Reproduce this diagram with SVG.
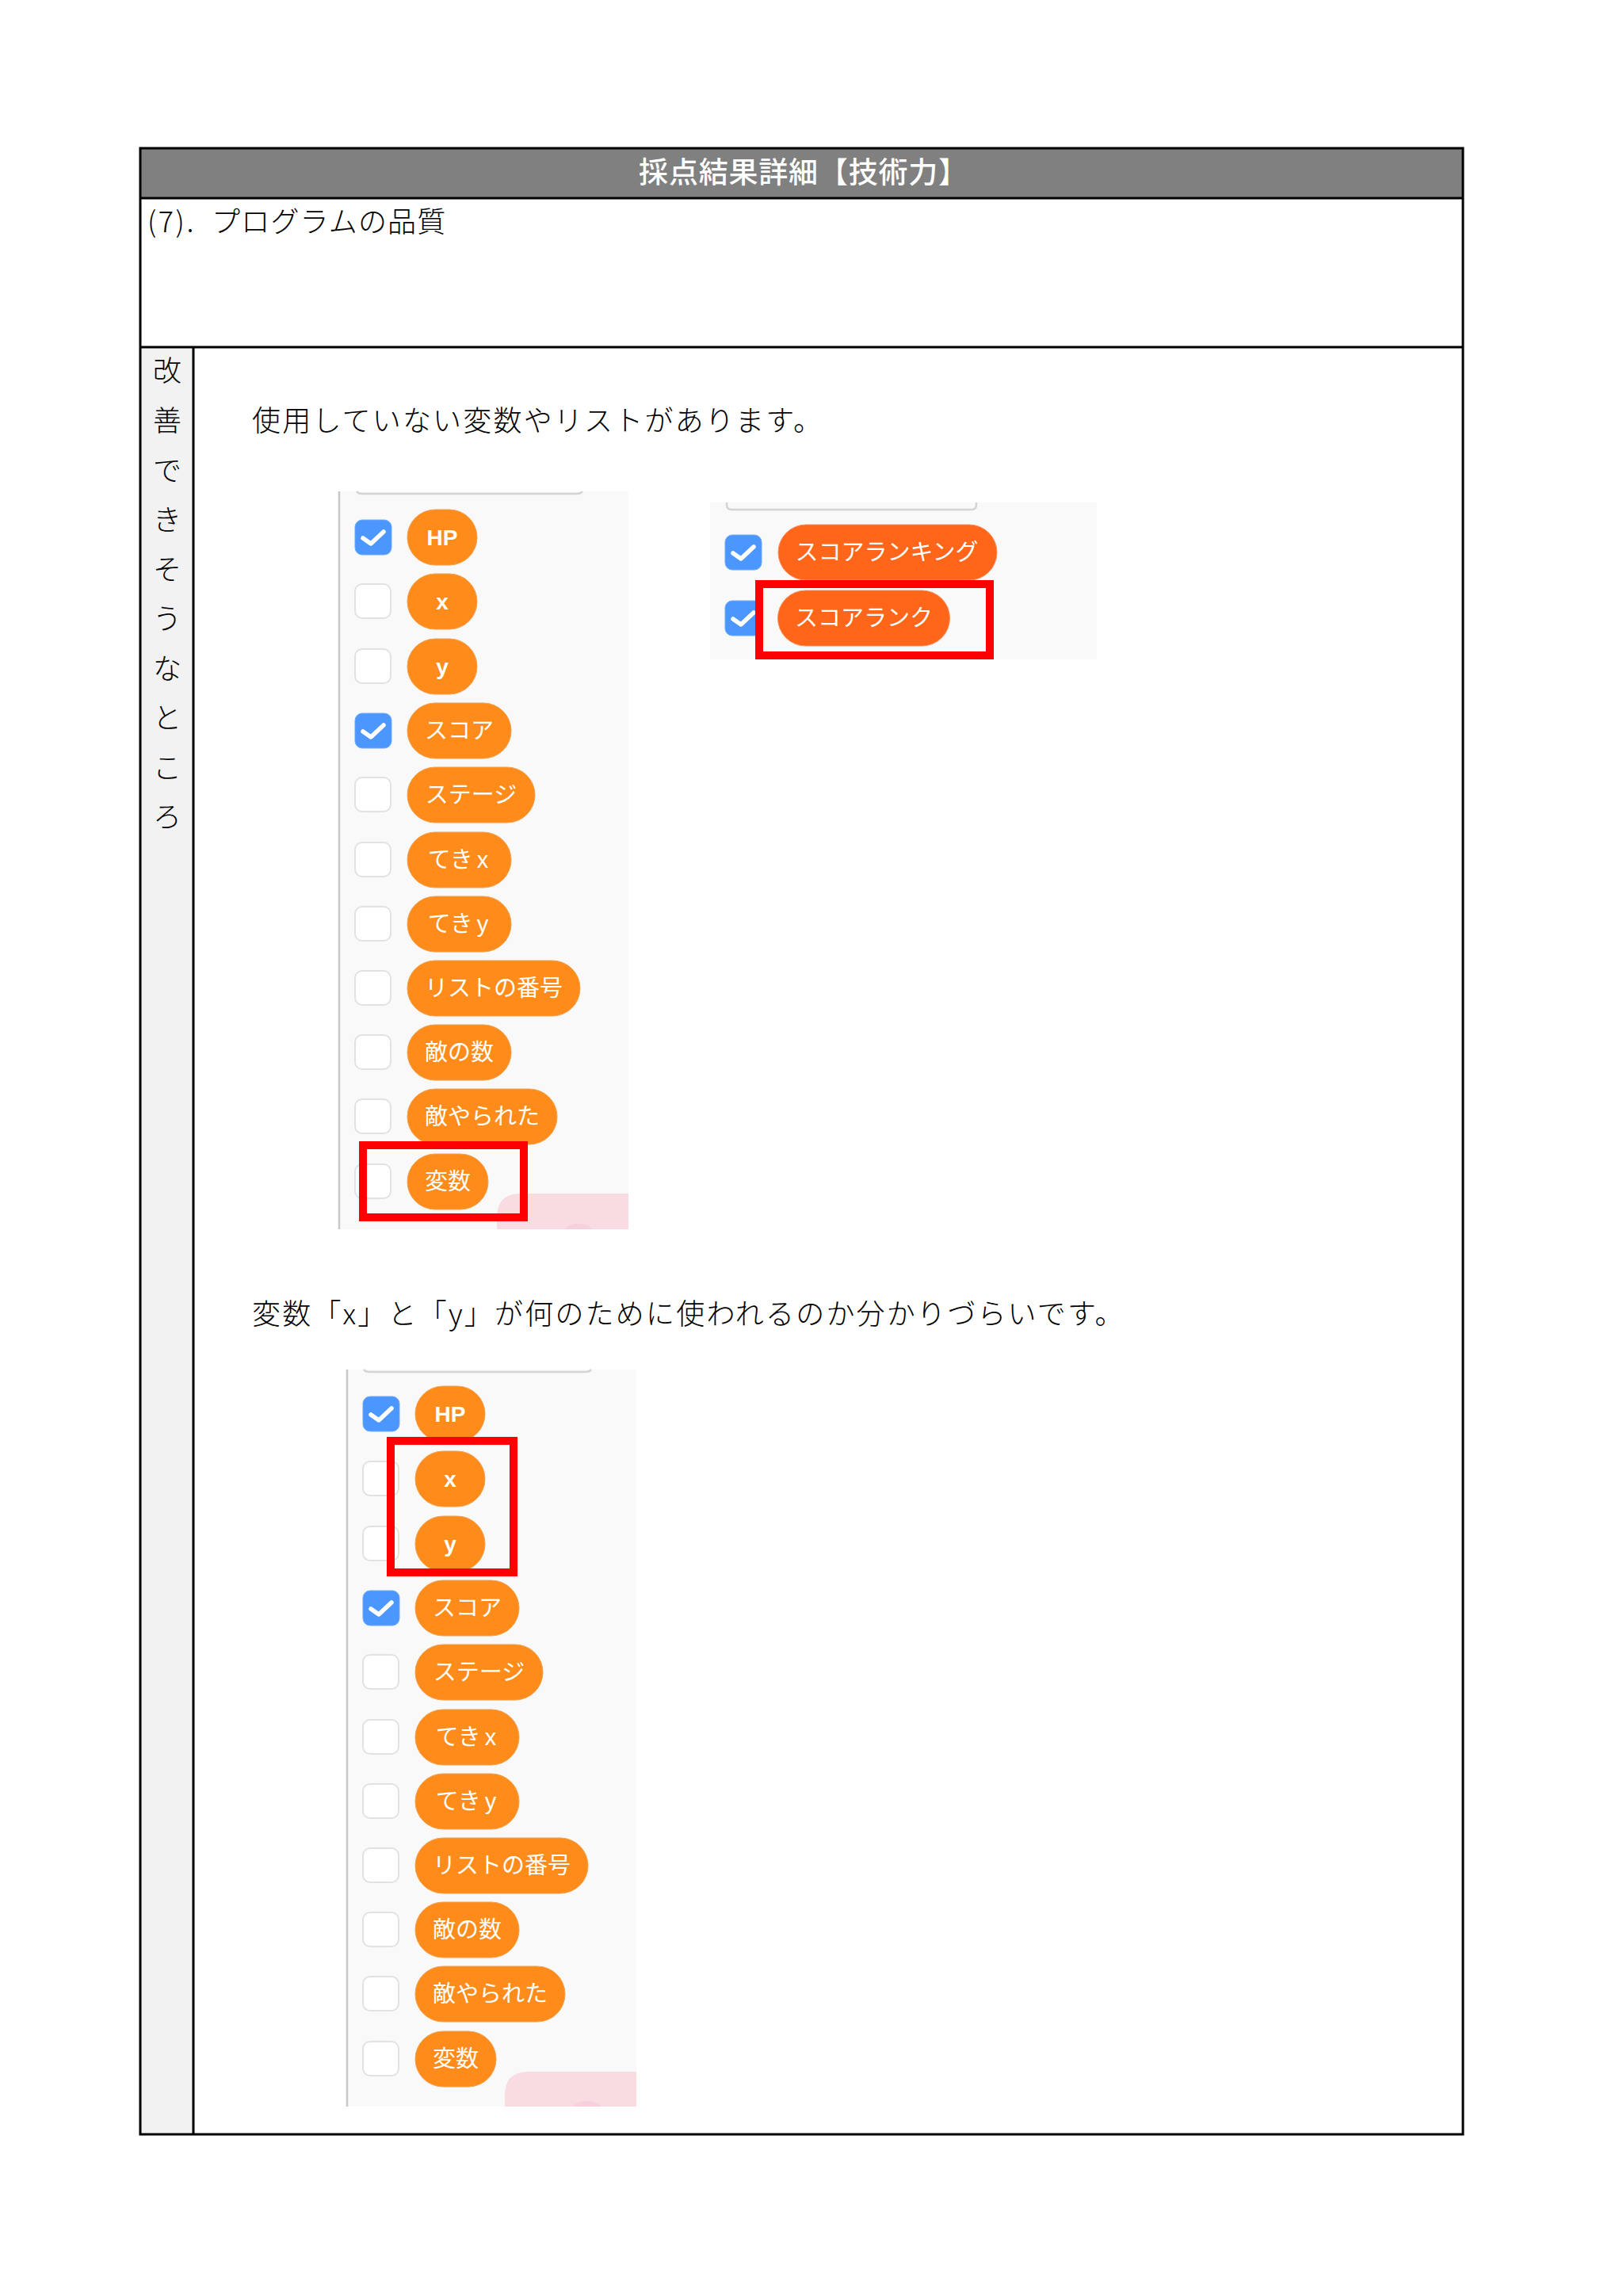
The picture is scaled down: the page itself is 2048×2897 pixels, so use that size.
<svg xmlns="http://www.w3.org/2000/svg" width="2048" height="2897" viewBox="0 0 2048 2897">
<style>
.bg{fill:#fff}
.ln{fill:none;stroke:#000;stroke-width:3}
.head{font:500 37px "Noto Sans CJK JP",sans-serif;fill:#fff;text-anchor:middle;letter-spacing:.8px}
.body{font:300 36px "Noto Sans CJK JP",sans-serif;fill:#000;letter-spacing:2.2px}
.side{font:300 36px "Noto Sans CJK JP",sans-serif;fill:#000;text-anchor:middle}
.panel{fill:#f9f9f9}
.edge{stroke:#c8c8c8;stroke-width:2.5;fill:none}
.top{stroke:#d4d4d4;stroke-width:2.5;fill:none}
.pink{fill:#f9dbe2}
.blob{fill:#f6d0da}
.on{fill:#4c97ff;stroke:#6aa9ff;stroke-width:1}
.off{fill:#fff;stroke:#e2e2e2;stroke-width:2}
.chk{fill:none;stroke:#fff;stroke-width:5.5;stroke-linecap:round;stroke-linejoin:round}
.p1{fill:#ff8c1a;stroke:#f0a050;stroke-width:1}
.p2{fill:#ff661a;stroke:#f59060;stroke-width:1}
.t{font:400 29px "Liberation Sans","Noto Sans CJK JP",sans-serif;fill:#fff;text-anchor:middle}
.b{font:700 28px "Liberation Sans",sans-serif;fill:#fff;text-anchor:middle}
.red{fill:none;stroke:#f00;stroke-width:10}
</style>
<defs>
<g id="cOn"><rect class="on" x="0" y="-22" width="46" height="44" rx="9"/><path class="chk" d="M10 1L20 8L36 -7"/></g>
<g id="cOff"><rect class="off" x="0" y="-22" width="45" height="43" rx="9"/></g>
</defs>
<rect class="bg" width="2048" height="2897"/>
<g id="table">
<rect x="177" y="187" width="1669" height="63" fill="#808080"/>
<rect x="177" y="438" width="67" height="2255" fill="#f2f2f2"/>
<rect class="ln" x="177" y="187" width="1669" height="2506"/>
<path class="ln" d="M177 250H1846M177 438H1846M244 438V2693"/>
<text id="title" class="head" x="1014" y="231">採点結果詳細【技術力】</text>
<text id="item" class="body" x="186" y="293" style="letter-spacing:2.500px">(7).</text>
<text id="item-name" class="body" x="267" y="293" style="letter-spacing:1.200px">プログラムの品質</text>
<g id="side">
<text class="side" x="211" y="481">改</text>
<text class="side" x="211" y="544">善</text>
<text class="side" x="211" y="607">で</text>
<text class="side" x="211" y="669">き</text>
<text class="side" x="211" y="732">そ</text>
<text class="side" x="211" y="794">う</text>
<text class="side" x="211" y="857">な</text>
<text class="side" x="211" y="919">と</text>
<text class="side" x="211" y="982">こ</text>
<text class="side" x="211" y="1044">ろ</text>
</g>
<text id="note1" class="body" x="318" y="544">使用していない変数やリストがあります。</text>
<text id="note2" class="body" x="318" y="1671">変数「x」と「y」が何のために使われるのか分かりづらいです。</text>
</g>

<g id="panel1">
<rect class="panel" x="428" y="620" width="365" height="931"/>
<path class="edge" d="M428 620V1551"/>
<path class="top" d="M450 620q2 3 7 3H728q5 0 7-3"/>
<path class="pink" d="M627 1551V1536q0-30 30-30H793V1551Z"/>
<path class="blob" d="M712 1551q6-7 18-7t18 7Z"/>
<g id="p1-hp" transform="translate(448,678)"><use href="#cOn"/><rect class="p1" x="66" y="-35" width="88" height="70" rx="35"/><text class="b" x="110" y="10">HP</text></g>
<g id="p1-x" transform="translate(448,759)"><use href="#cOff"/><rect class="p1" x="66" y="-35" width="88" height="70" rx="35"/><text class="b" x="110" y="10">x</text></g>
<g id="p1-y" transform="translate(448,841)"><use href="#cOff"/><rect class="p1" x="66" y="-35" width="88" height="70" rx="35"/><text class="b" x="110" y="10">y</text></g>
<g id="p1-score" transform="translate(448,922)"><use href="#cOn"/><rect class="p1" x="66" y="-35" width="131" height="70" rx="35"/><text class="t" x="131.500" y="10">スコア</text></g>
<g id="p1-stage" transform="translate(448,1003)"><use href="#cOff"/><rect class="p1" x="66" y="-35" width="161" height="70" rx="35"/><text class="t" x="146.500" y="10">ステージ</text></g>
<g id="p1-tekix" transform="translate(448,1085)"><use href="#cOff"/><rect class="p1" x="66" y="-35" width="131" height="70" rx="35"/><text class="t" x="130" y="10">てき<tspan dx="5">x</tspan></text></g>
<g id="p1-tekiy" transform="translate(448,1166)"><use href="#cOff"/><rect class="p1" x="66" y="-35" width="131" height="70" rx="35"/><text class="t" x="130" y="10">てき<tspan dx="5">y</tspan></text></g>
<g id="p1-list" transform="translate(448,1247)"><use href="#cOff"/><rect class="p1" x="66" y="-35" width="218" height="70" rx="35"/><text class="t" x="175" y="10">リストの番号</text></g>
<g id="p1-enemy" transform="translate(448,1328)"><use href="#cOff"/><rect class="p1" x="66" y="-35" width="131" height="70" rx="35"/><text class="t" x="131.500" y="10">敵の数</text></g>
<g id="p1-beaten" transform="translate(448,1409)"><use href="#cOff"/><rect class="p1" x="66" y="-35" width="189" height="70" rx="35"/><text class="t" x="160.500" y="10">敵やられた</text></g>
<g id="p1-var" transform="translate(448,1491)"><use href="#cOff"/><rect class="p1" x="66" y="-35" width="102" height="70" rx="35"/><text class="t" x="117" y="10">変数</text></g>
<rect id="p1-mark" class="red" x="458" y="1445" width="203" height="91"/>
</g>

<g id="panel2">
<rect class="panel" x="896" y="634" width="488" height="198"/>
<path class="top" d="M917 634v3q0 6 6 6H1226q6 0 6-6v-3"/>
<g id="p2-ranking" transform="translate(915,697)"><use href="#cOn"/><rect class="p2" x="67" y="-35" width="276" height="70" rx="35"/><text class="t" x="204" y="10">スコアランキング</text></g>
<g id="p2-rank" transform="translate(915,780)"><use href="#cOn"/><rect class="p2" x="66.500" y="-35" width="217" height="70" rx="35"/><text class="t" x="175" y="10">スコアランク</text></g>
<rect id="p2-mark" class="red" x="958" y="737" width="291" height="90"/>
</g>

<g id="panel3">
<rect class="panel" x="438" y="1728" width="365" height="930"/>
<path class="edge" d="M438 1728V2658"/>
<path class="top" d="M459 1728q2 3 7 3H739q5 0 7-3"/>
<path class="pink" d="M637 2658V2644q0-30 30-30H803V2658Z"/>
<path class="blob" d="M723 2658q6-7 18-7t18 7Z"/>
<g id="p3-hp" transform="translate(458,1784)"><use href="#cOn"/><rect class="p1" x="66" y="-35" width="88" height="70" rx="35"/><text class="b" x="110" y="10">HP</text></g>
<g id="p3-x" transform="translate(458,1866)"><use href="#cOff"/><rect class="p1" x="66" y="-35" width="88" height="70" rx="35"/><text class="b" x="110" y="10">x</text></g>
<g id="p3-y" transform="translate(458,1948)"><use href="#cOff"/><rect class="p1" x="66" y="-35" width="88" height="70" rx="35"/><text class="b" x="110" y="10">y</text></g>
<g id="p3-score" transform="translate(458,2029)"><use href="#cOn"/><rect class="p1" x="66" y="-35" width="131" height="70" rx="35"/><text class="t" x="131.500" y="10">スコア</text></g>
<g id="p3-stage" transform="translate(458,2110)"><use href="#cOff"/><rect class="p1" x="66" y="-35" width="161" height="70" rx="35"/><text class="t" x="146.500" y="10">ステージ</text></g>
<g id="p3-tekix" transform="translate(458,2192)"><use href="#cOff"/><rect class="p1" x="66" y="-35" width="131" height="70" rx="35"/><text class="t" x="130" y="10">てき<tspan dx="5">x</tspan></text></g>
<g id="p3-tekiy" transform="translate(458,2273)"><use href="#cOff"/><rect class="p1" x="66" y="-35" width="131" height="70" rx="35"/><text class="t" x="130" y="10">てき<tspan dx="5">y</tspan></text></g>
<g id="p3-list" transform="translate(458,2354)"><use href="#cOff"/><rect class="p1" x="66" y="-35" width="218" height="70" rx="35"/><text class="t" x="175" y="10">リストの番号</text></g>
<g id="p3-enemy" transform="translate(458,2435)"><use href="#cOff"/><rect class="p1" x="66" y="-35" width="131" height="70" rx="35"/><text class="t" x="131.500" y="10">敵の数</text></g>
<g id="p3-beaten" transform="translate(458,2516)"><use href="#cOff"/><rect class="p1" x="66" y="-35" width="189" height="70" rx="35"/><text class="t" x="160.500" y="10">敵やられた</text></g>
<g id="p3-var" transform="translate(458,2598)"><use href="#cOff"/><rect class="p1" x="66" y="-35" width="102" height="70" rx="35"/><text class="t" x="117" y="10">変数</text></g>
<rect id="p3-mark" class="red" x="493" y="1818" width="155" height="166"/>
</g>
</svg>
